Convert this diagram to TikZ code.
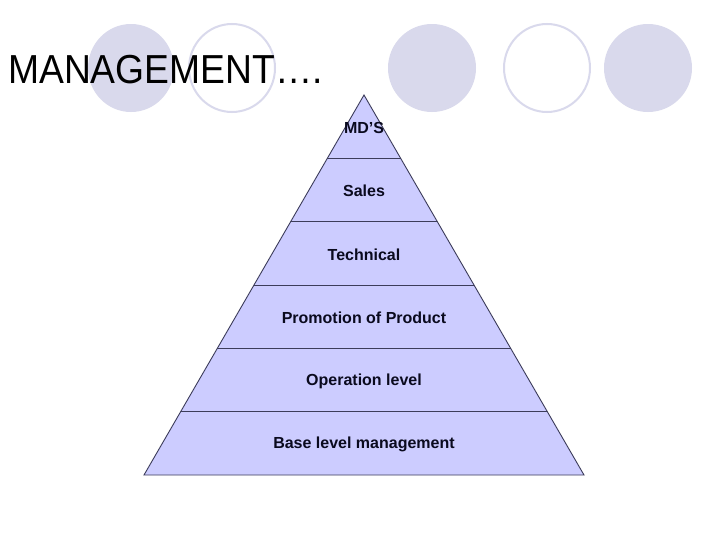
\documentclass[tikz,border=0pt]{standalone}
\usepackage{fontspec}
\setmainfont{Liberation Sans}
\definecolor{dotfill}{RGB}{217,217,236}
\definecolor{pyrfill}{RGB}{204,204,255}
\definecolor{pyrline}{RGB}{60,60,90}
\definecolor{labtext}{RGB}{10,10,30}
\begin{document}
\begin{tikzpicture}[x=1pt,y=-1pt,
  fulldot/.style={fill=dotfill,draw=none},
  ringdot/.style={draw=dotfill,line width=2pt,fill=none},
  layerlabel/.style={font=\fontsize{16}{19}\selectfont\bfseries,text=labtext,inner sep=0pt},
  layerline/.style={draw=pyrline,line width=0.9pt}]
\useasboundingbox[fill=white] (0,0) rectangle (728,546);
% decorative circles
\fill[fulldot] (131,68) ellipse [x radius=43,y radius=44];
\draw[ringdot] (232,68) ellipse [x radius=43,y radius=44];
\fill[fulldot] (432,68) ellipse [x radius=44,y radius=44];
\draw[ringdot] (547,68) ellipse [x radius=43,y radius=44];
\fill[fulldot] (648,68) ellipse [x radius=44,y radius=44];
% title
\node[anchor=base west,inner sep=0pt] (title) at (8,83)
  {\scalebox{0.92}[1]{\fontsize{40.5}{48}\selectfont MANAGEMENT….}};
% pyramid
\coordinate (apex) at (364,95);
\coordinate (bl) at (144,475);
\coordinate (br) at (584,475);
\fill[pyrfill] (apex) -- (bl) -- (br) -- cycle;
\foreach \k in {1,...,5}{
  \pgfmathsetmacro{\yy}{95+63.333*\k}
  \pgfmathsetmacro{\hw}{220*\k/6}
  \coordinate (L\k) at (364-\hw,\yy);
  \coordinate (R\k) at (364+\hw,\yy);
  \draw[layerline] (L\k) -- (R\k);
}
\draw[layerline,line join=miter] (apex) -- (bl) -- (br) -- cycle;
% labels
\node[layerlabel] (l1) at (364,128) {MD’S};
\node[layerlabel] (l2) at (364,191) {Sales};
\node[layerlabel] (l3) at (364,254.5) {Technical};
\node[layerlabel] (l4) at (364,318) {Promotion of Product};
\node[layerlabel] (l5) at (364,381.5) {Operation level};
\node[layerlabel] (l6) at (364,444) {Base level management};
\end{tikzpicture}
\end{document}
